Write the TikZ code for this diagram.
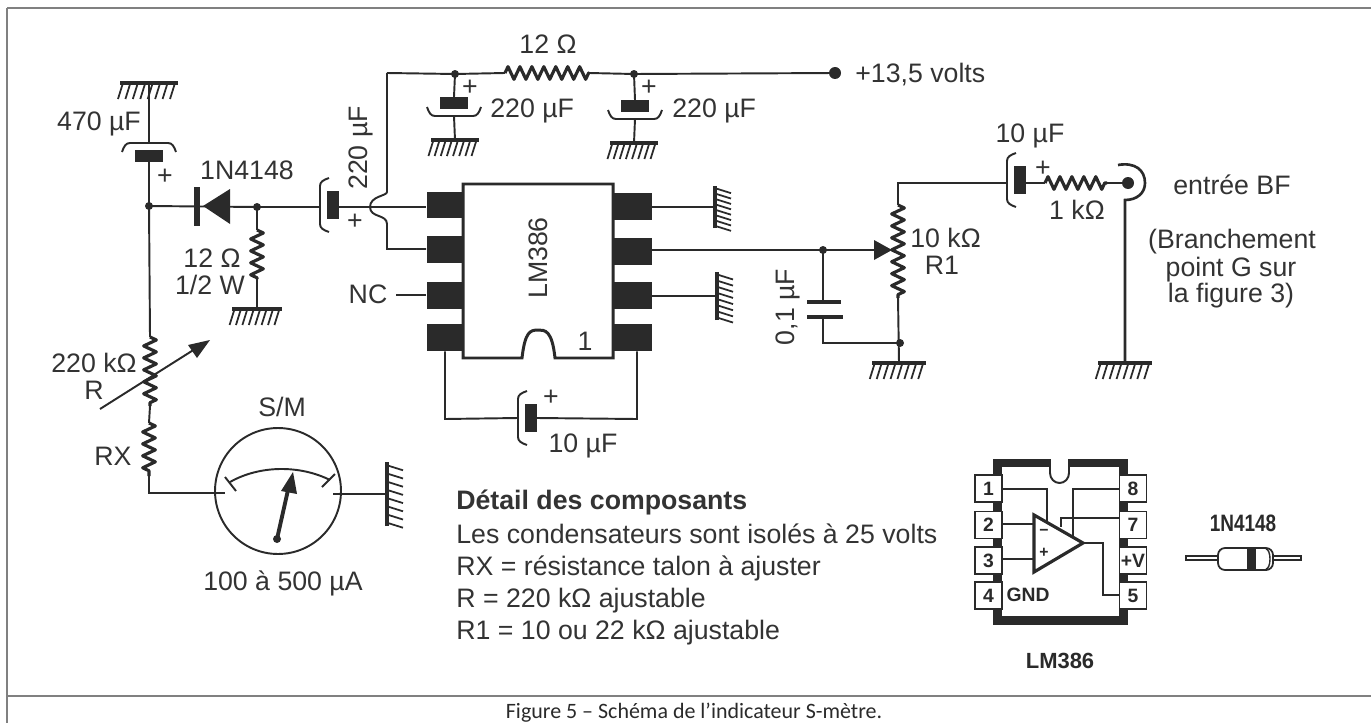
\documentclass[tikz,border=0pt]{standalone}
\usepackage{fontspec}
\setmainfont{Liberation Sans}
\newfontfamily\capfont{Carlito}
\usepackage{xcolor}
\usetikzlibrary{decorations.pathmorphing}
\definecolor{ink}{HTML}{2A2A2A}
\definecolor{txt}{HTML}{333333}
\definecolor{frm}{HTML}{808080}
\tikzset{
 wire/.style={draw=ink, line width=1.1pt},
 res/.style={wire, line width=1.8pt, line join=round, decorate, decoration={zigzag, amplitude=3.6pt, segment length=6.8pt}},
 blk/.style={fill=ink, draw=none, inner sep=0pt},
 pinblk/.style={blk, minimum width=.74cm, minimum height=.54cm},
 lbl/.style={text=txt, inner sep=0pt, text height=10.9pt, text depth=0pt, font=\fontsize{15.2}{18}\selectfont},
 pinbox/.style={draw=ink, line width=1.1pt, fill=white, minimum width=.54cm, minimum height=.54cm, inner sep=0pt, text=ink, font=\bfseries\fontsize{11}{13}\selectfont},
 dot/.style={circle, fill=ink, inner sep=0pt, minimum size=#1},
 dot/.default=.16cm,
 pics/gnd/.style={code={
  \draw[draw=ink, line width=2.2pt] (-#1,0) -- (#1,0);
  \foreach \hx in {-3.5,-2.5,...,3.5} \draw[draw=ink, line width=1pt] (\hx/3.9*#1,0) -- ++(-5,16);
 }},
 pics/ecap/.style={code={
  \fill[ink] (-6,-14) rectangle (6,14);
  \draw[wire] (-4,-27) .. controls (-10,-25) and (-13,-23) .. (-13,-19) -- (-13,19) .. controls (-13,23) and (-10,25) .. (-4,27);
  \coordinate (-br) at (-13,0);
  \coordinate (-pl) at (6,0);
 }},
}
\begin{document}
\begin{tikzpicture}[x=.02cm, y=-.02cm]
\useasboundingbox (0,0) rectangle (1371,723);
\draw[draw=frm, line width=1pt] (7,8) -- (1371,8) (7,696) -- (1371,696) (7,8) -- (7,723);
% coordinates
\coordinate (gtop) at (149,83);
\coordinate (j1) at (149,206);
\coordinate (j2) at (257,207);
\coordinate (rgt) at (257,230);
\coordinate (rgb) at (257,279);
\coordinate (g12) at (257,309);
\coordinate (rt) at (150,337);
\coordinate (rb) at (150,406);
\coordinate (rxt) at (149,423);
\coordinate (rxb) at (149,476);
\coordinate (mc) at (149,493);
\coordinate (hopt) at (387,192);
\coordinate (hopb) at (387,224);
\coordinate (tl) at (387,73);
\coordinate (j3) at (455,74);
\coordinate (r12a) at (505,73);
\coordinate (r12b) at (589,73);
\coordinate (j4) at (634,74);
\coordinate (ga) at (455,140);
\coordinate (gb) at (634,143);
\coordinate (pll) at (445,419);
\coordinate (plr) at (637,419);
\coordinate (grr1) at (715,207);
\coordinate (grr3) at (717,296);
\coordinate (j5) at (823,250);
\coordinate (pp1) at (823,302);
\coordinate (pp2) at (823,317);
\coordinate (j6) at (823,343);
\coordinate (j7) at (900,343);
\coordinate (pt) at (898,183);
\coordinate (pa) at (898,205);
\coordinate (pb) at (898,298);
\coordinate (gp) at (899,363);
\coordinate (r1a) at (1045,183);
\coordinate (r1b) at (1107,183);
\coordinate (jt) at (1125,200);
\coordinate (gj) at (1125,363);
\coordinate (gm) at (387,494);
% grounds
\pic at (gtop) {gnd=29};
\pic at (g12) {gnd=25};
\pic at (ga) {gnd=24};
\pic at (gb) {gnd=24};
\pic[rotate=90] at (grr1) {gnd=21};
\pic[rotate=90] at (grr3) {gnd=24};
\pic at (gp) {gnd=27};
\pic at (gj) {gnd=27};
\pic[rotate=90] at (gm) {gnd=32};
% electrolytic capacitors
\pic[rotate=-90] (c470) at (149,156) {ecap};
\pic (c220) at (333,205) {ecap};
\pic[rotate=90] (ca) at (454,103) {ecap};
\pic[rotate=90] (cb) at (635,106) {ecap};
\pic (c10) at (531,418) {ecap};
\pic (c10b) at (1020,180) {ecap};
% LM386 package
\node[pinblk] (l1) at (445,205) {};
\node[pinblk] (l2) at (445,249.5) {};
\node[pinblk] (l3) at (445,295) {};
\node[pinblk] (l4) at (445,337.5) {};
\node[pinblk, minimum width=.78cm] (r1) at (632.5,206.5) {};
\node[pinblk, minimum width=.78cm] (r2) at (632.5,251.5) {};
\node[pinblk, minimum width=.78cm] (r3) at (632.5,295) {};
\node[pinblk, minimum width=.78cm] (r4) at (632.5,337.5) {};
\draw[wire, line width=1.7pt, fill=white] (463,184) -- (613,184) -- (613,358) -- (555,358) .. controls (552,330) and (545,330) .. (538,330) .. controls (530,330) and (525,332) .. (522,358) -- (463,358) -- cycle;
\node[lbl, rotate=90] (ic) at (538,258) {LM386};
\node[lbl] (icn) at (585,341) {1};
% wires round the chip
\draw[wire] (j1) -- (c470-pl);
\draw[wire] (c470-br) -- (gtop);
\draw[wire] (j1) -- (rt);
\draw[res] (rt) -- (rb);
\draw[wire] (rb) -- (rxt);
\draw[res] (rxt) -- (rxb);
\draw[wire] (rxb) -- (mc) -- (225,493);
\node[dot] (n1) at (j1) {};
\node[dot] (n2) at (j2) {};
\draw[wire] (j1) -- (j2) -- (j2 -| c220-br);
\draw[wire] (j2) -- (rgt);
\draw[res] (rgt) -- (rgb);
\draw[wire] (rgb) -- (g12);
\draw[wire] (j2 -| c220-pl) -- (j2 -| l1.west);
\draw[wire] (tl) -- (hopt) .. controls (387,196) and (370,196) .. (370,207) .. controls (370,218) and (387,214) .. (hopb) -- (387,249) -- (l2.west |- 387,249);
\draw[wire] (tl) -- (j3) -- (r12a);
\draw[res] (r12a) -- (r12b);
\draw[wire] (r12b) -- (j4) -- (835,73);
\draw[wire] (j3) -- (ca-pl);
\draw[wire] (ca-br) -- (ga);
\draw[wire] (j4) -- (cb-pl);
\draw[wire] (cb-br) -- (gb);
\node[dot] (n3) at (j3) {};
\node[dot] (n4) at (j4) {};
\node[dot=.24cm] (vcc) at (835,73) {};
\draw[wire, line width=1.5pt] (l3.west) -- (396,295);
\draw[wire] (l4.south) -- (pll) -- (c10-br);
\draw[wire] (c10-pl) -- (plr) -- (plr |- r4.south);
\draw[wire] (r1.east |- grr1) -- (grr1);
\draw[wire] (r3.east |- grr3) -- (grr3);
\draw[wire] (r2.east |- j5) -- (j5) -- (875,250);
\draw[draw=none, fill=ink] (874,240) -- (892,250) -- (874,260) -- cycle;
\node[dot] (n5) at (j5) {};
\draw[wire] (j5) -- (pp1);
\draw[draw=ink, line width=2.6pt] (807,302) -- (841,302);
\draw[draw=ink, line width=2.6pt] (807,317) -- (843,317);
\draw[wire] (pp2) -- (j6) -- (j7);
\draw[wire] (c10b-br |- pt) -- (pt) -- (pa);
\draw[res] (pa) -- (pb);
\draw[wire] (pb) -- (gp);
\node[dot] (n6) at (j7) {};
\draw[wire] (c10b-pl |- pt) -- (r1a);
\draw[res] (r1a) -- (r1b);
\draw[wire] (r1b) -- (1128,183);
\node[dot=.24cm] (jk) at (1128,183) {};
\draw[wire, line width=1.5pt] (1118,165) .. controls (1135,162) and (1145,170) .. (1145,183) .. controls (1145,193) and (1137,200) .. (jt) -- (gj);
% diode and meter
\draw[fill=ink, draw=none] (230,189) -- (203,206) -- (230,224) -- cycle;
\draw[draw=ink, line width=3.6pt] (197,187) -- (197,226);
\draw[wire] (100,409) -- (195,349);
\draw[fill=ink, draw=none] (210,340) -- (188,345) -- (197,358) -- cycle;
\node[circle, draw=ink, line width=1.1pt, minimum size=2.52cm, inner sep=0pt] (mtr) at (278,491) {};
\draw[wire] (230,482) .. controls (260,465) and (300,465) .. (330,480);
\draw[wire] (225,477) -- (236,491) (322,487) -- (335,474);
\draw[wire] (333,494) -- (gm);
\draw[draw=ink, line width=2.2pt] (277,539) -- (288,490);
\draw[fill=ink, draw=none] (293,472) -- (281,491) -- (297,494) -- cycle;
\node[dot] (nd) at (277,539) {};
% labels
\node[lbl] (t470) at (99,121) {470 µF};
\node[lbl] (pa470) at (165,175) {+};
\node[lbl] (tdio) at (247,170) {1N4148};
\node[lbl] (t12a) at (212,258) {12 Ω};
\node[lbl] (t12b) at (210,285) {1/2 W};
\node[lbl, rotate=90] (t220) at (358,148) {220 µF};
\node[lbl] (pa220) at (355,220) {+};
\node[lbl] (tnc) at (368,294) {NC};
\node[lbl] (t12t) at (548,44) {12 Ω};
\node[lbl, anchor=west] (ta) at (490,108) {220 µF};
\node[lbl, anchor=west] (tb) at (672,108) {220 µF};
\node[lbl] (pa1) at (470,86) {+};
\node[lbl] (pa2) at (649,86) {+};
\node[lbl, anchor=west] (tvcc) at (855,73) {+13,5 volts};
\node[lbl] (pa3) at (551,396) {+};
\node[lbl] (t10) at (583,443) {10 µF};
\node[lbl, rotate=90] (t01) at (785,307) {0,1 µF};
\node[lbl, anchor=west] (tr1a) at (910,238) {10 kΩ};
\node[lbl] (tr1b) at (942,265) {R1};
\node[lbl] (t10b) at (1030,133) {10 µF};
\node[lbl] (pa4) at (1043,167) {+};
\node[lbl] (t1k) at (1077,210) {1 kΩ};
\node[lbl] (tbf) at (1232,185) {entrée BF};
\node[lbl] (tbra) at (1232,239) {(Branchement};
\node[lbl] (tbrb) at (1231,267) {point G sur};
\node[lbl] (tbrc) at (1231,293) {la figure 3)};
\node[lbl] (t220k) at (94,363) {220 kΩ};
\node[lbl] (tR) at (94,390) {R};
\node[lbl] (tRX) at (113,456) {RX};
\node[lbl] (tsm) at (282,407) {S/M};
\node[lbl] (tua) at (283,581) {100 à 500 µA};
\node[lbl, anchor=base west, font=\bfseries\fontsize{15.2}{18}\selectfont] (d0) at (456,509) {Détail des composants};
\node[lbl, anchor=base west] (d1) at (456,543) {Les condensateurs sont isolés à 25 volts};
\node[lbl, anchor=base west] (d2) at (456,575) {RX = résistance talon à ajuster};
\node[lbl, anchor=base west] (d3) at (456,607) {R = 220 kΩ ajustable};
\node[lbl, anchor=base west] (d4) at (456,639) {R1 = 10 ou 22 kΩ ajustable};
% pinout
\draw[draw=ink, line width=5pt, fill=white] (997.5,463) rectangle (1123.5,620.5);
\draw[draw=white, fill=white] (1050,455) rectangle (1069,473);
\draw[draw=ink, line width=1.1pt, fill=white] (1050,459) -- (1050,473) arc[start angle=180, end angle=0, x radius=9.5, y radius=10] -- (1069,459);
\foreach \pn/\py in {1/488.5,2/525,3/560.5,4/595.5} \node[pinbox] (lp\pn) at (988.5,\py) {\pn};
\foreach \pn/\pt/\py in {8/8/488.5,7/7/525,6/+V/560.5,5/5/595.5} \node[pinbox] (rp\pn) at (1133,\py) {\pt};
\draw[wire] (1002,489) -- (1047,489) -- (1047,522);
\draw[wire] (1119,489) -- (1073,489) -- (1073,536);
\draw[wire] (1119,518) -- (1061,518) -- (1061,527);
\draw[wire] (1002,524) -- (1034,524);
\draw[wire] (1002,559) -- (1034,559);
\draw[wire] (1083,543) -- (1103,543) -- (1103,595) -- (1119,595);
\draw[draw=ink, line width=1.8pt, fill=white, line join=miter] (1034,515) -- (1083,543) -- (1034,572) -- cycle;
\node[text=ink, inner sep=0pt, font=\bfseries\fontsize{9}{10}\selectfont] (mn) at (1044,532) {−};
\node[text=ink, inner sep=0pt, font=\bfseries\fontsize{9}{10}\selectfont] (pl) at (1044,553) {+};
\node[text=ink, inner sep=0pt, font=\bfseries\fontsize{11}{13}\selectfont] (tgnd) at (1028,595) {GND};
\node[text=ink, inner sep=0pt, font=\bfseries\fontsize{12.5}{15}\selectfont] (tlm) at (1060,661) {LM386};
\node[text=ink, inner sep=0pt, font=\bfseries\fontsize{13.5}{15}\selectfont] (tdb) at (1243,523) {\scalebox{.8}[1]{1N4148}};
% diode drawing
\draw[draw=ink, line width=1pt, fill=white] (1186,556) rectangle (1301,560);
\draw[draw=ink, line width=1pt, fill=white, rounded corners=4pt] (1218,548) rectangle (1273,570);
\fill[ink] (1247,548) rectangle (1256,570);
\draw[draw=ink, line width=.8pt] (1266,549) arc[start angle=-90, end angle=90, x radius=4, y radius=10];
% caption
\node[text=ink, inner sep=0pt, font=\capfont\fontsize{12.5}{15}\selectfont] (cap) at (694,713) {Figure 5 – Schéma de l’indicateur S-mètre.};
\end{tikzpicture}
\end{document}
